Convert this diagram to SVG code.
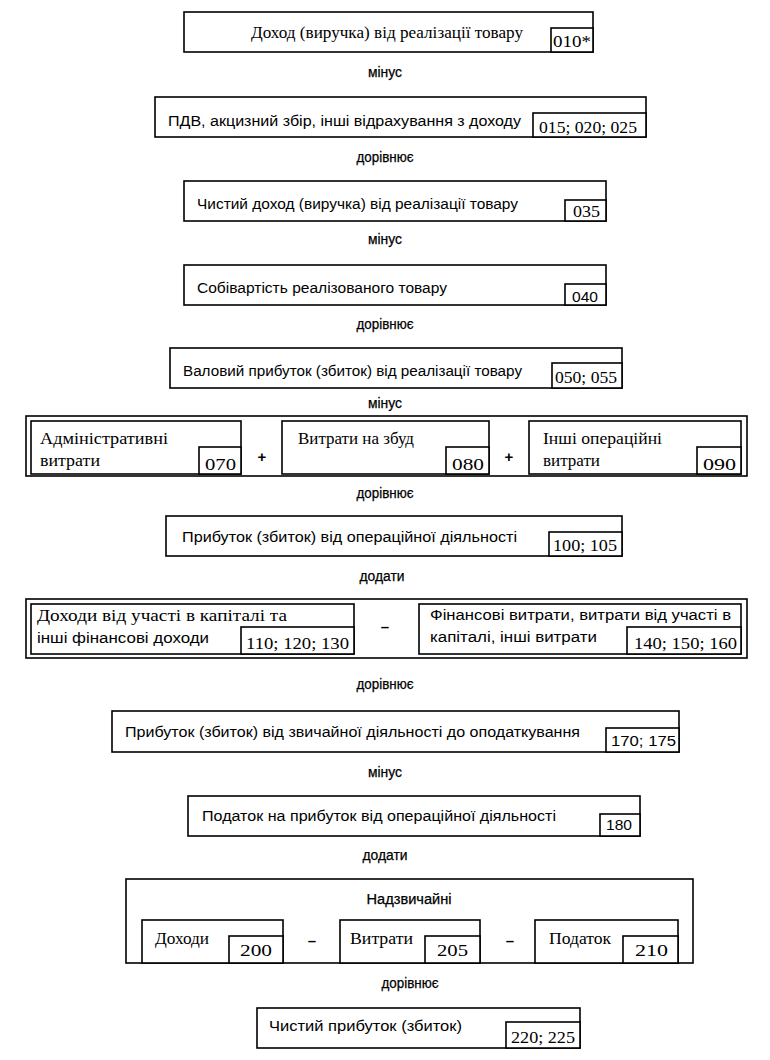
<svg xmlns="http://www.w3.org/2000/svg" width="770" height="1060" viewBox="0 0 770 1060">
<style>
.bg{fill:#fff}
.box{fill:#fff;stroke:#000;stroke-width:1.6}
.code{fill:#fff;stroke:#000;stroke-width:1.6}
.s{font-family:"Liberation Sans",Arial,sans-serif;font-size:14px;fill:#000}
.r{font-family:"Liberation Serif","Times New Roman",serif;font-size:16.5px;fill:#000}
.op{font-family:"Liberation Sans",Arial,sans-serif;font-size:14px;fill:#000;text-anchor:middle;stroke:#000;stroke-width:0.25}
.sign{font-family:"Liberation Sans",Arial,sans-serif;font-size:15px;font-weight:bold;fill:#000;text-anchor:middle}
</style>
<rect class="bg" x="0" y="0" width="770" height="1060"/>

<g id="n1">
<rect class="box" x="184" y="12" width="409" height="40"/>
<rect class="code" x="551" y="28" width="42" height="24"/>
<text class="r" x="251" y="38" textLength="272" lengthAdjust="spacingAndGlyphs">Доход (виручка) від реалізації товару</text>
<text class="r" x="553" y="47" textLength="38" lengthAdjust="spacingAndGlyphs">010*</text>
</g>

<g id="n2">
<rect class="box" x="155" y="97" width="491" height="40"/>
<rect class="code" x="533" y="113" width="113" height="24"/>
<text class="s" x="168" y="126" textLength="353" lengthAdjust="spacingAndGlyphs">ПДВ, акцизний збір, інші відрахування з доходу</text>
<text class="r" x="539" y="133" textLength="98" lengthAdjust="spacingAndGlyphs">015; 020; 025</text>
</g>

<g id="n3">
<rect class="box" x="184" y="181" width="422" height="40"/>
<rect class="code" x="565" y="200" width="41" height="21"/>
<text class="s" x="197" y="209" textLength="321" lengthAdjust="spacingAndGlyphs">Чистий доход (виручка) від реалізації товару</text>
<text class="r" x="573" y="217" textLength="27" lengthAdjust="spacingAndGlyphs">035</text>
</g>

<g id="n4">
<rect class="box" x="184" y="265" width="422" height="40"/>
<rect class="code" x="565" y="284" width="41" height="21"/>
<text class="s" x="197" y="293" textLength="250" lengthAdjust="spacingAndGlyphs">Собівартість реалізованого товару</text>
<text class="s" x="572" y="302" textLength="26" lengthAdjust="spacingAndGlyphs">040</text>
</g>

<g id="n5">
<rect class="box" x="170" y="348" width="452" height="40"/>
<rect class="code" x="552" y="363" width="70" height="25"/>
<text class="s" x="183" y="376" textLength="339" lengthAdjust="spacingAndGlyphs">Валовий прибуток (збиток) від реалізації товару</text>
<text class="r" x="555" y="383" textLength="62" lengthAdjust="spacingAndGlyphs">050; 055</text>
</g>

<g id="n6">
<rect class="box" x="26" y="416" width="721" height="60"/>
<rect class="box" x="31" y="421" width="210" height="53"/>
<rect class="code" x="199" y="447" width="42" height="27"/>
<text class="r" x="40" y="444" textLength="128" lengthAdjust="spacingAndGlyphs">Адміністративні</text>
<text class="r" x="40" y="466" textLength="60" lengthAdjust="spacingAndGlyphs">витрати</text>
<text class="r" x="205" y="470" textLength="31" lengthAdjust="spacingAndGlyphs">070</text>
<text class="sign" x="262" y="462">+</text>
<rect class="box" x="282" y="421" width="207" height="53"/>
<rect class="code" x="446" y="447" width="43" height="27"/>
<text class="r" x="298" y="444" textLength="116" lengthAdjust="spacingAndGlyphs">Витрати на збуд</text>
<text class="r" x="452" y="470" textLength="32" lengthAdjust="spacingAndGlyphs">080</text>
<text class="sign" x="509" y="462">+</text>
<rect class="box" x="529" y="421" width="212" height="53"/>
<rect class="code" x="697" y="447" width="44" height="27"/>
<text class="r" x="543" y="444" textLength="119" lengthAdjust="spacingAndGlyphs">Інші операційні</text>
<text class="r" x="543" y="466" textLength="57" lengthAdjust="spacingAndGlyphs">витрати</text>
<text class="r" x="703" y="470" textLength="33" lengthAdjust="spacingAndGlyphs">090</text>
</g>

<g id="n7">
<rect class="box" x="166" y="516" width="456" height="40"/>
<rect class="code" x="549" y="532" width="73" height="24"/>
<text class="s" x="182" y="542" textLength="335" lengthAdjust="spacingAndGlyphs">Прибуток (збиток) від операційної діяльності</text>
<text class="r" x="553" y="551" textLength="64" lengthAdjust="spacingAndGlyphs">100; 105</text>
</g>

<g id="n8">
<rect class="box" x="26" y="599" width="721" height="59"/>
<rect class="box" x="31" y="604" width="323" height="50"/>
<rect class="code" x="241" y="627" width="113" height="27"/>
<text class="r" x="37" y="621" textLength="250" lengthAdjust="spacingAndGlyphs">Доходи від участі в капіталі та</text>
<text class="s" x="37" y="643" textLength="172" lengthAdjust="spacingAndGlyphs">інші фінансові доходи</text>
<text class="r" x="246" y="649" textLength="103" lengthAdjust="spacingAndGlyphs">110; 120; 130</text>
<text class="sign" x="385" y="632">–</text>
<rect class="box" x="419" y="604" width="322" height="50"/>
<rect class="code" x="627" y="627" width="114" height="27"/>
<text class="s" x="430" y="620" textLength="301" lengthAdjust="spacingAndGlyphs">Фінансові витрати, витрати від участі в</text>
<text class="s" x="430" y="642" textLength="167" lengthAdjust="spacingAndGlyphs">капіталі, інші витрати</text>
<text class="r" x="634" y="649" textLength="103" lengthAdjust="spacingAndGlyphs">140; 150; 160</text>
</g>

<g id="n9">
<rect class="box" x="112" y="711" width="567" height="41"/>
<rect class="code" x="606" y="728" width="73" height="24"/>
<text class="s" x="125" y="737" textLength="455" lengthAdjust="spacingAndGlyphs">Прибуток (збиток) від звичайної діяльності до оподаткування</text>
<text class="s" x="611" y="746" textLength="65" lengthAdjust="spacingAndGlyphs">170; 175</text>
</g>

<g id="n10">
<rect class="box" x="188" y="796" width="452" height="40"/>
<rect class="code" x="600" y="814" width="40" height="22"/>
<text class="s" x="202" y="821" textLength="354" lengthAdjust="spacingAndGlyphs">Податок на прибуток від операційної діяльності</text>
<text class="s" x="606" y="830" textLength="26" lengthAdjust="spacingAndGlyphs">180</text>
</g>

<g id="n11">
<rect class="box" x="126" y="879" width="567" height="84"/>
<text class="op" x="409" y="904" textLength="85" lengthAdjust="spacingAndGlyphs">Надзвичайні</text>
<rect class="box" x="142" y="920" width="141" height="43"/>
<rect class="code" x="229" y="936" width="54" height="27"/>
<text class="r" x="155" y="944" textLength="54" lengthAdjust="spacingAndGlyphs">Доходи</text>
<text class="r" x="240" y="956" textLength="32" lengthAdjust="spacingAndGlyphs">200</text>
<text class="sign" x="312" y="946">–</text>
<rect class="box" x="340" y="920" width="140" height="43"/>
<rect class="code" x="425" y="936" width="55" height="27"/>
<text class="r" x="350" y="944" textLength="63" lengthAdjust="spacingAndGlyphs">Витрати</text>
<text class="r" x="437" y="956" textLength="31" lengthAdjust="spacingAndGlyphs">205</text>
<text class="sign" x="510" y="946">–</text>
<rect class="box" x="535" y="920" width="143" height="43"/>
<rect class="code" x="623" y="936" width="55" height="27"/>
<text class="r" x="549" y="944" textLength="62" lengthAdjust="spacingAndGlyphs">Податок</text>
<text class="r" x="635" y="956" textLength="33" lengthAdjust="spacingAndGlyphs">210</text>
</g>

<g id="n12">
<rect class="box" x="257" y="1008" width="323" height="40"/>
<rect class="code" x="506" y="1022" width="74" height="26"/>
<text class="s" x="269" y="1031" textLength="193" lengthAdjust="spacingAndGlyphs">Чистий прибуток (збиток)</text>
<text class="r" x="511" y="1043" textLength="64" lengthAdjust="spacingAndGlyphs">220; 225</text>
</g>

<g id="connectors">
<text class="op" x="385" y="77" textLength="34" lengthAdjust="spacingAndGlyphs">мінус</text>
<text class="op" x="385" y="162" textLength="57" lengthAdjust="spacingAndGlyphs">дорівнює</text>
<text class="op" x="385" y="244" textLength="34" lengthAdjust="spacingAndGlyphs">мінус</text>
<text class="op" x="385" y="329" textLength="57" lengthAdjust="spacingAndGlyphs">дорівнює</text>
<text class="op" x="385" y="408" textLength="34" lengthAdjust="spacingAndGlyphs">мінус</text>
<text class="op" x="385" y="498" textLength="57" lengthAdjust="spacingAndGlyphs">дорівнює</text>
<text class="op" x="382" y="581" textLength="45" lengthAdjust="spacingAndGlyphs">додати</text>
<text class="op" x="385" y="689" textLength="57" lengthAdjust="spacingAndGlyphs">дорівнює</text>
<text class="op" x="385" y="777" textLength="34" lengthAdjust="spacingAndGlyphs">мінус</text>
<text class="op" x="385" y="860" textLength="45" lengthAdjust="spacingAndGlyphs">додати</text>
<text class="op" x="410" y="988" textLength="57" lengthAdjust="spacingAndGlyphs">дорівнює</text>
</g>
</svg>
